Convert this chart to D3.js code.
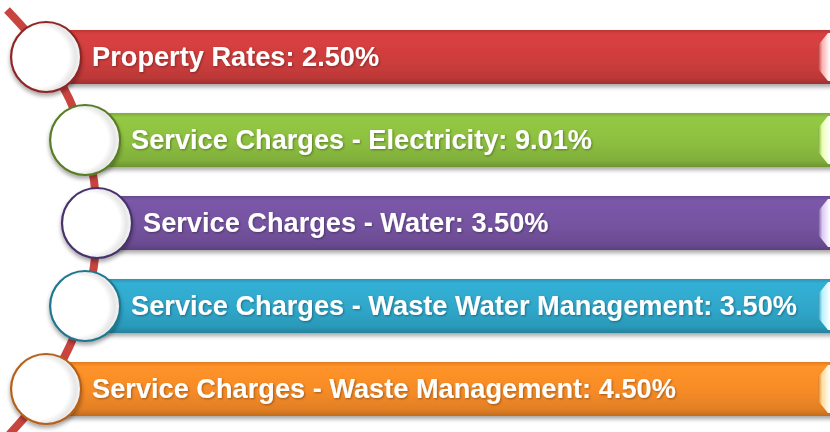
<!DOCTYPE html>
<html><head><meta charset="utf-8">
<script src="https://cdn.jsdelivr.net/npm/d3@7/dist/d3.min.js"></script>
<style>html,body{margin:0;padding:0;background:#fff;}svg{display:block;}</style>
</head><body>
<script>
const categories = ["Property Rates", "Service Charges - Electricity", "Service Charges - Water", "Service Charges - Waste Water Management", "Service Charges - Waste Management"];
const values = [2.50, 9.01, 3.50, 3.50, 4.50];
const colors = ["#cf3d3d", "#8cbf40", "#7553a0", "#2fa7ca", "#f68b27"];
const darkColors = ["#8e2626", "#587d25", "#48326b", "#1f7890", "#b5601a"];
const capColors = ["#ffb0b0", "#eaffb0", "#dcc8f5", "#b8f2ff", "#ffe0a0"];

const W = 830, H = 432;
const svg = d3.select("body").append("svg").attr("width", W).attr("height", H);
const defs = svg.append("defs");

const y = d3.scaleBand().domain(d3.range(categories.length)).range([18.4, 427.6]).paddingInner(0.35).paddingOuter(0.14);
const mid = (categories.length - 1) / 2;
const R = 296, xRight = 97;
const cy = i => y(i) + y.bandwidth() / 2;
const cx = i => { const dy = cy(i) - cy(mid); return xRight - R + Math.sqrt(R * R - dy * dy); };
const r = 35;

// filters
const sh = defs.append("filter").attr("id", "shadow").attr("x", "-20%").attr("y", "-30%").attr("width", "140%").attr("height", "170%");
sh.append("feDropShadow").attr("dx", 0).attr("dy", 3).attr("stdDeviation", 2.2).attr("flood-color", "#000").attr("flood-opacity", 0.35);
const ts = defs.append("filter").attr("id", "tshadow").attr("x", "-5%").attr("y", "-20%").attr("width", "110%").attr("height", "150%");
ts.append("feDropShadow").attr("dx", 1).attr("dy", 1).attr("stdDeviation", 0.8).attr("flood-color", "#000").attr("flood-opacity", 0.35);

colors.forEach((c, i) => {
  const g = defs.append("linearGradient").attr("id", "bg" + i).attr("x1", 0).attr("y1", 0).attr("x2", 0).attr("y2", 1);
  g.append("stop").attr("offset", "0%").attr("stop-color", d3.color(c).darker(0.3));
  g.append("stop").attr("offset", "8%").attr("stop-color", d3.color(c).brighter(0.15));
  g.append("stop").attr("offset", "55%").attr("stop-color", c);
  g.append("stop").attr("offset", "88%").attr("stop-color", d3.color(c).darker(0.25));
  g.append("stop").attr("offset", "100%").attr("stop-color", d3.color(c).darker(0.7));
  const cg = defs.append("linearGradient").attr("id", "cg" + i).attr("x1", 0).attr("y1", 0).attr("x2", 1).attr("y2", 0);
  cg.append("stop").attr("offset", "0%").attr("stop-color", d3.color(c).darker(0.3));
  cg.append("stop").attr("offset", "35%").attr("stop-color", capColors[i]);
  cg.append("stop").attr("offset", "100%").attr("stop-color", "#ffffff");
});
const rg = defs.append("radialGradient").attr("id", "circ").attr("cx", "0.42").attr("cy", "0.5").attr("r", "0.6").attr("fx", "0.38").attr("fy", "0.5");
rg.append("stop").attr("offset", "0%").attr("stop-color", "#ffffff");
rg.append("stop").attr("offset", "70%").attr("stop-color", "#ffffff");
rg.append("stop").attr("offset", "85%").attr("stop-color", "#e6e6e6");
rg.append("stop").attr("offset", "100%").attr("stop-color", "#ffffff");

// connecting line
const pts = [[7, 10]].concat(categories.map((d, i) => [cx(i), cy(i)])).concat([[6, 438]]);
svg.append("path").attr("d", d3.line().curve(d3.curveCatmullRom.alpha(0.5))(pts))
  .attr("fill", "none").attr("stroke", "#c9443f").attr("stroke-width", 8);

const rows = svg.selectAll("g.row").data(categories).join("g").attr("class", "row");
rows.append("rect")
  .attr("x", (d, i) => cx(i)).attr("y", (d, i) => y(i))
  .attr("width", (d, i) => W + 20 - cx(i)).attr("height", y.bandwidth())
  .attr("rx", 4).attr("fill", (d, i) => `url(#bg${i})`).attr("filter", "url(#shadow)");
// end caps
rows.append("path")
  .attr("d", (d, i) => {
    const t = y(i), b = y(i) + y.bandwidth(), h = y.bandwidth();
    const x0 = 818, x1 = 828;
    return `M${x0},${t + h * 0.28}L${x1},${t + 3}L${W},${t + 3}L${W},${b - 3}L${x1},${b - 3}L${x0},${b - h * 0.28}Z`;
  })
  .attr("fill", (d, i) => `url(#cg${i})`);
rows.append("circle")
  .attr("cx", (d, i) => cx(i)).attr("cy", (d, i) => cy(i)).attr("r", r)
  .attr("fill", "url(#circ)").attr("stroke", (d, i) => darkColors[i]).attr("stroke-width", 2.2)
  .attr("filter", "url(#shadow)");
rows.append("text")
  .attr("x", (d, i) => cx(i) + 46).attr("y", (d, i) => cy(i)).attr("dy", "0.34em")
  .attr("fill", "#fff").attr("font-family", "'Liberation Sans', Arial, sans-serif")
  .attr("font-weight", "bold").attr("font-size", 27.2).attr("filter", "url(#tshadow)")
  .text((d, i) => `${d}: ${values[i].toFixed(2)}%`);
</script>
</body></html>
